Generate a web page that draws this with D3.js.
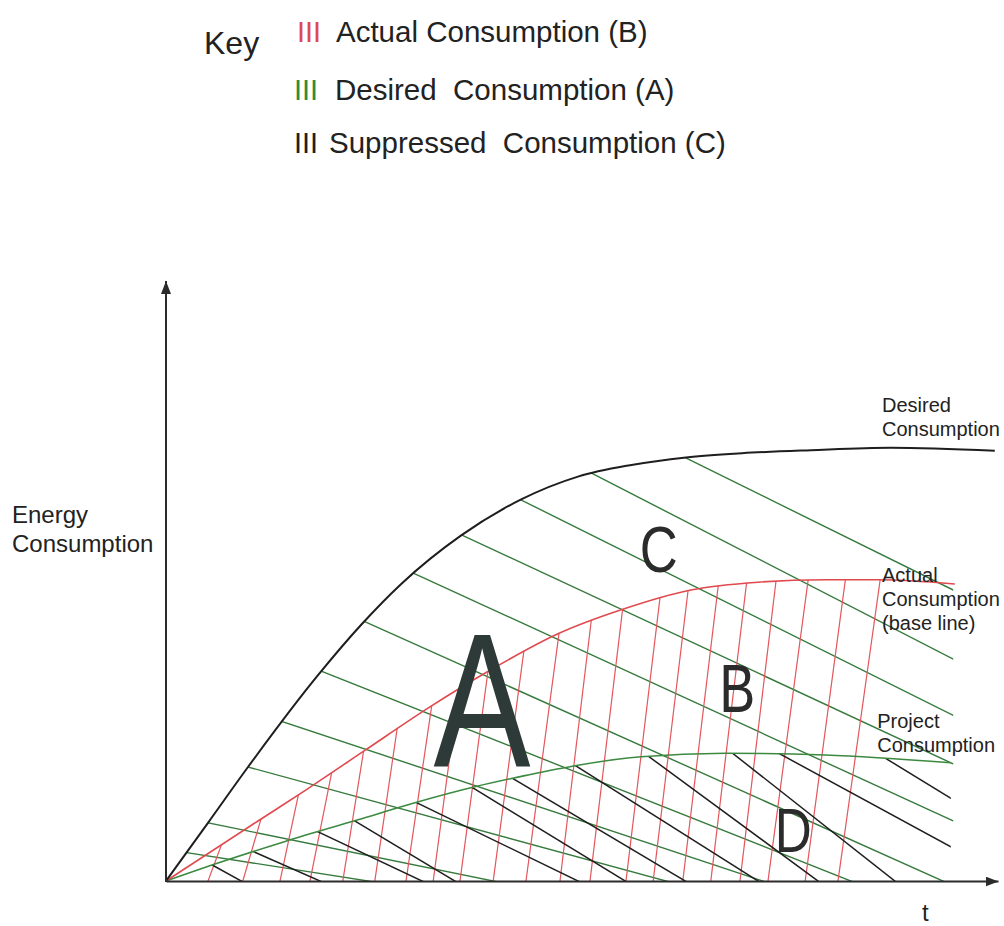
<!DOCTYPE html>
<html><head><meta charset="utf-8">
<script src="https://cdn.jsdelivr.net/npm/d3@7"></script>
<style>
html,body{margin:0;padding:0;background:#fff;}
svg{display:block;font-family:"Liberation Sans",Arial,Helvetica,sans-serif;}
</style></head><body>
<svg id="chart" width="1004" height="926"></svg>
<script>
// ---------- data (t = time, E = energy consumption, arbitrary units) ----------
const desiredT = [0, 5.25, 10.25, 19, 24.4, 29.4, 36.9, 44.4, 51.5, 58, 65, 72, 80.6, 90.6, 103.6];
const desiredE = [0, 9.7, 19, 34.3, 42.7, 49.5, 57.6, 63.6, 67.4, 69.3, 70.6, 71.3, 71.8, 72.2, 71.7];

const actualT = [0, 11.5, 17.75, 24.9, 32.75, 40.6, 49, 56.9, 65.6, 74, 82.4, 89, 98.6];
const actualE = [0, 10, 15.4, 21.8, 28.8, 35.2, 41.2, 45.2, 48.5, 49.8, 50.2, 50.2, 49.5];

const projectT = [0, 6.5, 14.9, 24, 31, 38.6, 45, 51.5, 59.4, 69.9, 82.4, 98.1];
const projectE = [0, 3.0, 6.6, 10.2, 13, 15.7, 17.6, 19.3, 20.7, 21.3, 21, 19.7];

// hatch lines: [tStart, EStart, tEnd, EEnd]
const greenHatch = [
  [65, 70.5, 98.4, 48.5],
  [53.6, 67.7, 98.1, 37.2],
  [44.4, 63.5, 98.1, 27.8],
  [36.9, 57.7, 98.1, 19.7],
  [30.6, 51.5, 98.1, 10.2],
  [24.4, 43.5, 97.1, 0],
  [19, 35.2, 85.6, 0],
  [14, 26.8, 74.6, 0],
  [10.25, 19, 62.5, 0],
  [5.25, 9.7, 40.9, 0],
  [2.75, 4.7, 25.25, 0]
];
const blackHatch = [
  [5.6, 2.8, 9.4, 0],
  [11.1, 4.8, 19.25, 0],
  [19, 8.2, 32, 0],
  [24, 9.7, 36.1, 0],
  [31.1, 13.2, 51.5, 0],
  [38.4, 15.5, 57.4, 0],
  [43.1, 17.3, 64.9, 0],
  [51.1, 19.3, 74, 0],
  [60.6, 20.5, 81.5, 0],
  [71.1, 21, 91.1, 0],
  [77.4, 20.7, 98.1, 5.7],
  [90.25, 20.2, 98.1, 13.8]
];
// red hatch: base t on the time axis and lean (dt per unit E)
const redHatchBase = [5.25, 9.6, 14.25, 18, 22.1, 26.1, 30, 33.4, 36.75, 40.9, 45, 49.25, 53, 57.5, 60.9, 64.6, 68.1, 71.75, 75.25, 79.9, 84];
const redHatchLean = [0.28, 0.22, 0.16, 0.15, 0.12, 0.11, 0.11, 0.1, 0.1, 0.1, 0.1, 0.09, 0.09, 0.09, 0.09, 0.09, 0.09, 0.09, 0.1, 0.1, 0.105];
const hatchEndT = 98.4;

const legendMarks = ["III", "III", "III"];
const legendLabels = ["Actual Consumption (B)", "Desired  Consumption (A)", "Suppressed  Consumption (C)"];
const legendColors = ["#dd4a4f", "#2f8a3c", "#1e1e1e"];

const curveLabels = [
  {lines: ["Desired", "Consumption"], t: 89.5, E: 78.2},
  {lines: ["Actual", "Consumption", "(base line)"], t: 89.5, E: 49.8},
  {lines: ["Project", "Consumption"], t: 88.9, E: 25.5}
];
const regionLetters = [
  {s: "A", t: 39.5, E: 19.0, size: 191, w: 97, color: "#2d3a38"},
  {s: "B", t: 71.4, E: 28.2, size: 68, w: 36, color: "#2b2b2b"},
  {s: "C", t: 61.6, E: 51.5, size: 65, w: 38, color: "#2b2b2b"},
  {s: "D", t: 78.4, E: 4.8, size: 63, w: 37, color: "#2b2b2b"}
];

// ---------- drawing ----------
const svg = d3.select("#chart");
const x = d3.scaleLinear().domain([0, 104]).range([166, 998]);
const y = d3.scaleLinear().domain([0, 100]).range([881, 281]);

const zip = (ts, es) => ts.map((t, i) => ({t, E: es[i]}));
const desired = zip(desiredT, desiredE);
const actual = zip(actualT, actualE);
const project = zip(projectT, projectE);

const area = d3.area().x(d => x(d.t)).y0(y(0)).y1(d => y(d.E)).curve(d3.curveMonotoneX);
const line = d3.line().x(d => x(d.t)).y(d => y(d.E)).curve(d3.curveMonotoneX);

const defs = svg.append("defs");
[["clipDesired", desired], ["clipActual", actual], ["clipProject", project]].forEach(([id, data]) => {
  defs.append("clipPath").attr("id", id).append("path").attr("d", area(data));
});
defs.append("clipPath").attr("id", "clipRight").append("rect")
  .attr("x", x(0) - 5).attr("y", 0).attr("width", x(hatchEndT) - x(0) + 5).attr("height", y(0));
defs.append("marker").attr("id", "arrow").attr("viewBox", "0 -5 13 10")
  .attr("refX", 13).attr("refY", 0).attr("markerWidth", 13).attr("markerHeight", 10)
  .attr("markerUnits", "userSpaceOnUse").attr("orient", "auto")
  .append("path").attr("d", "M0,-5L13,0L0,5Z").attr("fill", "#2b2b2b");

function seg(h, back, fwd) {
  const X0 = x(h[0]), Y0 = y(h[1]), X1 = x(h[2]), Y1 = y(h[3]);
  const dx = X1 - X0, dy = Y1 - Y0;
  return [X0 - dx * back, Y0 - dy * back, X1 + dx * fwd, Y1 + dy * fwd];
}
function hatchGroup(clipId) {
  return svg.append("g").attr("clip-path", "url(#clipRight)")
    .append("g").attr("clip-path", `url(#${clipId})`);
}

// green hatch (desired consumption)
hatchGroup("clipDesired").selectAll("line").data(greenHatch).join("line")
  .each(function (h) {
    const s = seg(h, 0.35, 0.15);
    d3.select(this).attr("x1", s[0]).attr("y1", s[1]).attr("x2", s[2]).attr("y2", s[3]);
  })
  .attr("stroke", "#367a3d").attr("stroke-width", 1.4);

// red hatch (actual consumption)
hatchGroup("clipActual").selectAll("line").data(redHatchBase).join("line")
  .attr("x1", (b, i) => x(b - redHatchLean[i] * 2)).attr("y1", y(-2))
  .attr("x2", (b, i) => x(b + redHatchLean[i] * 70)).attr("y2", y(70))
  .attr("stroke", "#e2575c").attr("stroke-width", 1.2);

// black hatch (project consumption)
hatchGroup("clipProject").selectAll("line").data(blackHatch).join("line")
  .each(function (h) {
    const s = seg(h, 0.4, 0.15);
    d3.select(this).attr("x1", s[0]).attr("y1", s[1]).attr("x2", s[2]).attr("y2", s[3]);
  })
  .attr("stroke", "#1e1e1e").attr("stroke-width", 1.5);

// curves
svg.append("path").attr("d", line(project)).attr("fill", "none").attr("stroke", "#3b8a40").attr("stroke-width", 1.6);
svg.append("path").attr("d", line(actual)).attr("fill", "none").attr("stroke", "#e0494e").attr("stroke-width", 1.6);
svg.append("path").attr("d", line(desired)).attr("fill", "none").attr("stroke", "#1e1e1e").attr("stroke-width", 2);

// axes (no ticks) with arrowheads
const xAxisG = svg.append("g").attr("transform", `translate(0,${y(0)})`)
  .call(d3.axisBottom(x).tickValues([]).tickSizeOuter(0));
xAxisG.select(".domain").attr("stroke", "#2b2b2b").attr("stroke-width", 2).attr("marker-end", "url(#arrow)");
svg.append("line").attr("x1", x(0)).attr("y1", y(0) + 1).attr("x2", x(0)).attr("y2", y(100))
  .attr("stroke", "#2b2b2b").attr("stroke-width", 2).attr("marker-end", "url(#arrow)");

// axis labels
const yLab = svg.append("text").attr("font-size", 24).attr("fill", "#222");
yLab.append("tspan").attr("x", 12).attr("y", 523).text("Energy");
yLab.append("tspan").attr("x", 12).attr("y", 552).text("Consumption");
svg.append("text").attr("x", x(0) + 756).attr("y", 921).attr("font-size", 24).attr("fill", "#222").text("t");

// curve labels
curveLabels.forEach(c => {
  const t = svg.append("text").attr("font-size", 20).attr("fill", "#222");
  c.lines.forEach((s, i) => t.append("tspan").attr("x", x(c.t)).attr("y", y(c.E) + i * 24).text(s));
});

// region letters
svg.selectAll("text.region").data(regionLetters).join("text").attr("class", "region")
  .attr("x", d => x(d.t)).attr("y", d => y(d.E))
  .attr("font-size", d => d.size).attr("fill", d => d.color)
  .attr("text-anchor", "middle")
  .attr("textLength", d => d.w).attr("lengthAdjust", "spacingAndGlyphs")
  .text(d => d.s);

// key
svg.append("text").attr("x", 204).attr("y", 54).attr("font-size", 32).attr("fill", "#222").text("Key");
const rowY = [42, 100, 153];
const markX = [297, 294, 294];
const textX = [336, 335, 329];
legendLabels.forEach((lab, i) => {
  svg.append("text").attr("x", markX[i]).attr("y", rowY[i]).attr("font-size", 29)
    .attr("fill", legendColors[i]).text(legendMarks[i]);
  svg.append("text").attr("x", textX[i]).attr("y", rowY[i]).attr("font-size", 29.5)
    .attr("fill", "#222").style("white-space", "pre").text(lab);
});
</script></body></html>
